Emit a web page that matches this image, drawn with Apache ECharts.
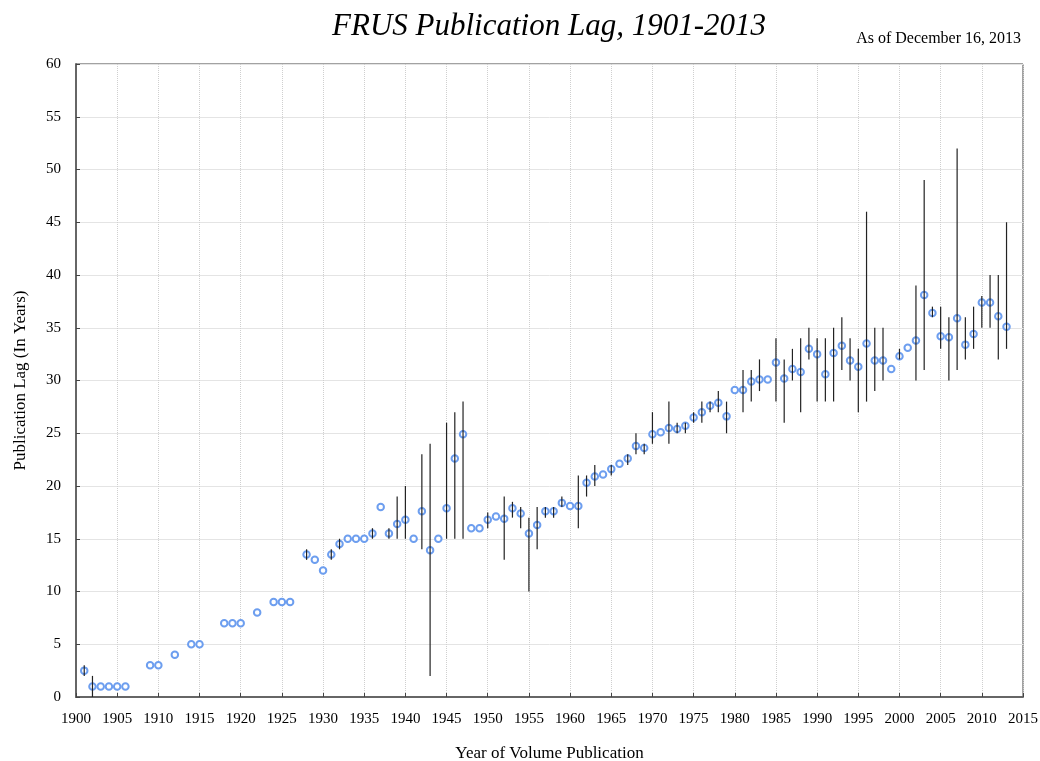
<!DOCTYPE html>
<html>
<head>
<meta charset="utf-8">
<title>FRUS Publication Lag</title>
<script src="https://cdn.jsdelivr.net/npm/echarts@6/dist/echarts.min.js"></script>
<style>
  html, body { margin: 0; padding: 0; background: #fff; }
  #main { width: 1040px; height: 761px; }
</style>
</head>
<body>
<div id="main"></div>
<script>
// year of volume publication
const years = [
  1901, 1902, 1903, 1904, 1905, 1906, 1909, 1910, 1912, 1914, 1915, 1918, 1919, 1920, 1922, 1924, 1925, 1926,
  1928, 1929, 1930, 1931, 1932, 1933, 1934, 1935, 1936, 1937, 1938, 1939, 1940, 1941, 1942, 1943, 1944, 1945,
  1946, 1947, 1948, 1949, 1950, 1951, 1952, 1953, 1954, 1955, 1956, 1957, 1958, 1959, 1960, 1961, 1962, 1963,
  1964, 1965, 1966, 1967, 1968, 1969, 1970, 1971, 1972, 1973, 1974, 1975, 1976, 1977, 1978, 1979, 1980, 1981,
  1982, 1983, 1984, 1985, 1986, 1987, 1988, 1989, 1990, 1991, 1992, 1993, 1994, 1995, 1996, 1997, 1998, 1999,
  2000, 2001, 2002, 2003, 2004, 2005, 2006, 2007, 2008, 2009, 2010, 2011, 2012, 2013
]

// mean lag (years)
const lag = [
  2.5, 1, 1, 1, 1, 1, 3, 3, 4, 5, 5, 7, 7, 7, 8, 9, 9, 9,
  13.5, 13, 12, 13.5, 14.5, 15, 15, 15, 15.5, 18, 15.5, 16.4, 16.8, 15, 17.6, 13.9, 15, 17.9,
  22.6, 24.9, 16, 16, 16.8, 17.1, 16.9, 17.9, 17.4, 15.5, 16.3, 17.6, 17.6, 18.4, 18.1, 18.1, 20.3, 20.9,
  21.1, 21.6, 22.1, 22.6, 23.8, 23.6, 24.9, 25.1, 25.5, 25.4, 25.7, 26.5, 27, 27.6, 27.9, 26.6, 29.1, 29.1,
  29.9, 30.1, 30.1, 31.7, 30.2, 31.1, 30.8, 33, 32.5, 30.6, 32.6, 33.3, 31.9, 31.3, 33.5, 31.9, 31.9, 31.1,
  32.3, 33.1, 33.8, 38.1, 36.4, 34.2, 34.1, 35.9, 33.4, 34.4, 37.4, 37.4, 36.1, 35.1
]

// range of lags in that year (null = single value)
const lagMin = [
  2, 0, null, null, null, null, null, null, null, null, null, null, null, null, null, null, null, null,
  13, null, null, 13, 14, null, null, null, 15, null, 15, 15, 15, null, 14, 2, null, 15,
  15, 15, null, null, 16, null, 13, 17, 16, 10, 14, 17, 17, 18, null, 16, 19, 20,
  null, 21, null, 22, 23, 23, 24, null, 24, 25, 25, 26, 26, 27, 27, 25, null, 27,
  28, 29, null, 28, 26, 30, 27, 32, 28, 28, 28, 31, 30, 27, 28, 29, 30, null,
  32, null, 30, 31, 36, 33, 30, 31, 32, 33, 35, 35, 32, 33
]
const lagMax = [
  3, 2, null, null, null, null, null, null, null, null, null, null, null, null, null, null, null, null,
  14, null, null, 14, 15, null, null, null, 16, null, 16, 19, 20, null, 23, 24, null, 26,
  27, 28, null, null, 17.5, null, 19, 18.5, 18, 17, 18, 18, 18, 19, null, 21, 21, 22,
  null, 22, null, 23, 25, 24, 27, null, 28, 26, 26, 27, 28, 28, 29, 28, null, 31,
  31, 32, null, 34, 32, 33, 34, 35, 34, 34, 35, 36, 34, 33, 46, 35, 35, null,
  33, null, 39, 49, 37, 37, 36, 52, 36, 37, 38, 40, 40, 45
]

const serif = 'Liberation Serif'

const points = years.map((y, i) => [y, lag[i]])
const bars = []
years.forEach((y, i) => {
  if (lagMin[i] !== null) bars.push([y, lagMin[i], lagMax[i]])
})

const chart = echarts.init(document.getElementById('main'))

chart.setOption({
  animation: false,
  backgroundColor: '#fff',
  title: [
    {
      text: 'FRUS Publication Lag, 1901-2013',
      left: 549,
      top: 11,
      padding: 0,
      textAlign: 'center',
      textStyle: { fontFamily: serif, fontStyle: 'italic', fontWeight: 'normal', fontSize: 31, color: '#000' }
    },
    {
      text: 'As of December 16, 2013',
      right: 19,
      top: 31,
      padding: 0,
      textStyle: { fontFamily: serif, fontWeight: 'normal', fontSize: 16, color: '#000' }
    }
  ],
  grid: {
    left: 76,
    right: 17,
    top: 64,
    bottom: 64,
    outerBoundsMode: 'none',
    containLabel: false,
    show: true,
    borderColor: '#444',
    borderWidth: 1
  },
  xAxis: {
    type: 'value',
    min: 1900,
    max: 2015,
    interval: 5,
    name: 'Year of Volume Publication',
    nameLocation: 'middle',
    nameGap: 48,
    nameTextStyle: { fontFamily: serif, fontSize: 17, color: '#000' },
    axisLine: { lineStyle: { color: '#666', width: 2 } },
    axisTick: { inside: true, length: 4, lineStyle: { color: '#444' } },
    axisLabel: {
      margin: 15,
      fontFamily: serif,
      fontSize: 15,
      color: '#000',
      formatter: v => String(v)
    },
    splitLine: { show: true, lineStyle: { color: '#cfcfcf', type: 'dotted', width: 1 } }
  },
  yAxis: {
    type: 'value',
    min: 0,
    max: 60,
    interval: 5,
    name: 'Publication Lag (In Years)',
    nameLocation: 'middle',
    nameGap: 47,
    nameRotate: 90,
    nameTextStyle: { fontFamily: serif, fontSize: 17, color: '#000' },
    axisLine: { show: true, lineStyle: { color: '#666', width: 2 } },
    axisTick: { show: true, inside: true, length: 4, lineStyle: { color: '#444' } },
    axisLabel: { margin: 15, fontFamily: serif, fontSize: 15, color: '#000' },
    splitLine: { show: true, lineStyle: { color: '#e4e4e4', width: 1 } }
  },
  series: [
    {
      type: 'scatter',
      data: points,
      symbol: 'circle',
      symbolSize: 6.5,
      itemStyle: { color: '#fff', borderColor: '#6d9eef', borderWidth: 2, opacity: 1 },
      z: 2
    },
    {
      type: 'custom',
      data: bars,
      z: 3,
      renderItem: (params, api) => {
        const x = api.value(0)
        const p1 = api.coord([x, api.value(1)])
        const p2 = api.coord([x, api.value(2)])
        return {
          type: 'line',
          shape: { x1: p1[0], y1: p1[1], x2: p2[0], y2: p2[1] },
          style: { stroke: '#222', lineWidth: 1.2 }
        }
      }
    }
  ]
})
</script>
</body>
</html>
